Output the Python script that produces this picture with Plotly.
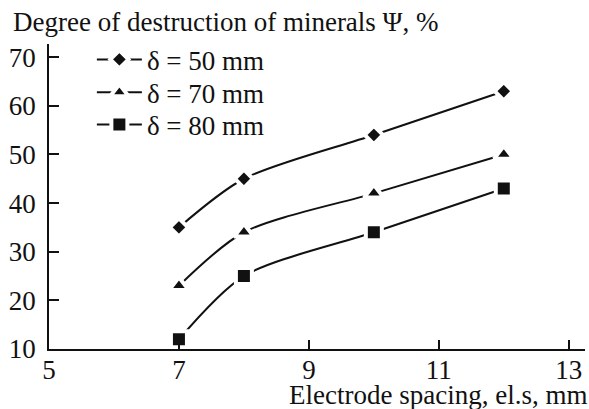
import plotly.graph_objects as go

spacing = [7, 8, 10, 12]
psi_50 = [35, 45, 54, 63]
psi_70 = [23, 34, 42, 50]
psi_80 = [12, 25, 34, 43]
names = ["δ = 50 mm", "δ = 70 mm", "δ = 80 mm"]
x_ticks = [5, 7, 9, 11, 13]
y_ticks = [10, 20, 30, 40, 50, 60, 70]

FONT = "Liberation Serif, serif"
TXT = dict(family=FONT, size=27, color="#111")
fig = go.Figure()
series = [(psi_50, "diamond", 10, "legend"), (psi_70, "triangle-up", 13, "legend2"),
          (psi_80, "square", 12, "legend3")]
W = 4
for (vals, sym, sz, lg), nm in zip(series, names):
    fig.add_trace(go.Scatter(
        x=spacing, y=vals, name=nm, mode="lines+markers", legend=lg,
        line=dict(color="#111", width=2, shape="spline", smoothing=0.8),
        marker=dict(symbol=sym, size=sz + W, color="#111",
                    line=dict(color="white", width=W)),
    ))

def leg(ypos):
    return dict(x=0.08, y=ypos, xanchor="left", yanchor="middle",
                bgcolor="rgba(0,0,0,0)", itemwidth=45, font=TXT)

fig.update_layout(
    width=589, height=409,
    margin=dict(l=49, r=4, t=44, b=60),
    paper_bgcolor="white", plot_bgcolor="white",
    font=TXT,
    showlegend=True,
    legend=leg(0.948), legend2=leg(0.840), legend3=leg(0.735),
    xaxis=dict(range=[5, 13.25], tickvals=x_ticks, ticks="inside", ticklen=9,
               tickwidth=1.5, tickcolor="#111", showline=True, linecolor="#111",
               linewidth=1.5, showgrid=False, zeroline=False,
               ticklabelstandoff=-4, tickfont=TXT),
    yaxis=dict(range=[10, 72.7], tickvals=y_ticks, ticks="inside", ticklen=10,
               tickwidth=1.5, tickcolor="#111", showline=True, linecolor="#111",
               linewidth=1.5, showgrid=False, zeroline=False,
               ticklabelstandoff=6, tickfont=TXT),
    annotations=[
        dict(text="Degree of destruction of minerals Ψ, %", xref="paper", yref="paper",
             x=-0.07, y=1.072, xanchor="left", yanchor="middle", showarrow=False,
             font=TXT),
        dict(text="Electrode spacing, el.s, mm", xref="paper", yref="paper",
             x=1.0, y=-0.151, xanchor="right", yanchor="middle", showarrow=False,
             xshift=4, font=TXT),
    ],
)
fig.write_html("out.html", config={"displayModeBar": False},
               post_script="document.body.style.margin='0';")
